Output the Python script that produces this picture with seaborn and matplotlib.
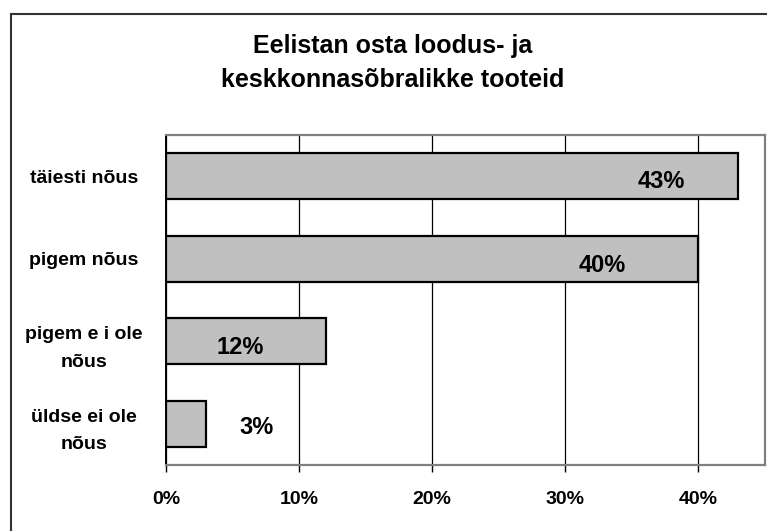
import numpy as np
import pandas as pd
import matplotlib.pyplot as plt
import matplotlib.patches as patches
from matplotlib.ticker import FuncFormatter, MultipleLocator
import seaborn as sns

# data
categories = ["täiesti nõus", "pigem nõus", "pigem e i ole\nnõus", "üldse ei ole\nnõus"]
shares = [0.43, 0.40, 0.12, 0.03]
value_labels = ["43%", "40%", "12%", "3%"]
# where Excel happened to put each value label (data units along x)
label_x = [0.372, 0.328, 0.056, 0.068]
label_dy = [0.06, 0.08, 0.07, 0.04]

title = "Eelistan osta loodus- ja\nkeskkonnasõbralikke tooteid"

df = pd.DataFrame({"category": categories, "share": shares})

sns.set_style("white")
plt.rcParams["font.family"] = ["Liberation Sans", "DejaVu Sans"]
plt.rcParams["text.color"] = "black"
plt.rcParams["xtick.labelcolor"] = "black"
plt.rcParams["ytick.labelcolor"] = "black"

fig = plt.figure(figsize=(7.67, 5.31), dpi=100)
ax = fig.add_axes([166 / 767, 1 - 465 / 531, 599 / 767, 330 / 531])

sns.barplot(data=df, x="share", y="category", orient="h", ax=ax,
            color="#C0C0C0", saturation=1, edgecolor="black",
            linewidth=1.6, width=0.56, zorder=3)

ax.set_xlim(0, 0.45)
ax.set_ylim(3.5, -0.5)
ax.xaxis.set_major_locator(MultipleLocator(0.1))
ax.xaxis.set_major_formatter(FuncFormatter(lambda v, _: f"{v:.0%}"))
ax.set_xticks([0, 0.1, 0.2, 0.3, 0.4])

ax.grid(axis="x", color="black", linewidth=0.9, zorder=0)
ax.set_axisbelow(True)
ax.set_xlabel("")
ax.set_ylabel("")

for side in ["top", "right", "bottom"]:
    ax.spines[side].set_color("#808080")
    ax.spines[side].set_linewidth(1.6)
    ax.spines[side].set_visible(True)
ax.spines["left"].set_color("black")
ax.spines["left"].set_linewidth(1.4)
ax.spines["left"].set_visible(True)

ax.tick_params(axis="x", direction="out", length=5, width=1, color="black",
               pad=14, labelsize=14, labelcolor="black", bottom=True)
ax.tick_params(axis="y", length=0, pad=59, labelsize=14, labelcolor="black")
for lab in ax.get_xticklabels():
    lab.set_fontweight("bold")
for lab in ax.get_yticklabels():
    lab.set_fontweight("bold")
    lab.set_horizontalalignment("center")
    lab.set_multialignment("center")
    lab.set_linespacing(1.8)

for i, (txt, lx, dy) in enumerate(zip(value_labels, label_x, label_dy)):
    ax.text(lx, i + dy, txt, ha="center", va="center", color="black",
            fontsize=17, fontweight="bold", zorder=5)

fig.text(393 / 767, 1 - 63 / 531, title, ha="center", va="center",
         color="black", fontsize=18, fontweight="bold", linespacing=1.55)

# outer chart frame (runs off the right and bottom edges)
frame = patches.Rectangle((11 / 767, -0.02), 1.0, 1 - 14 / 531 + 0.02,
                          transform=fig.transFigure, fill=False,
                          edgecolor="#333333", linewidth=1.5)
fig.patches.append(frame)

fig.savefig("out.png", dpi=100)
